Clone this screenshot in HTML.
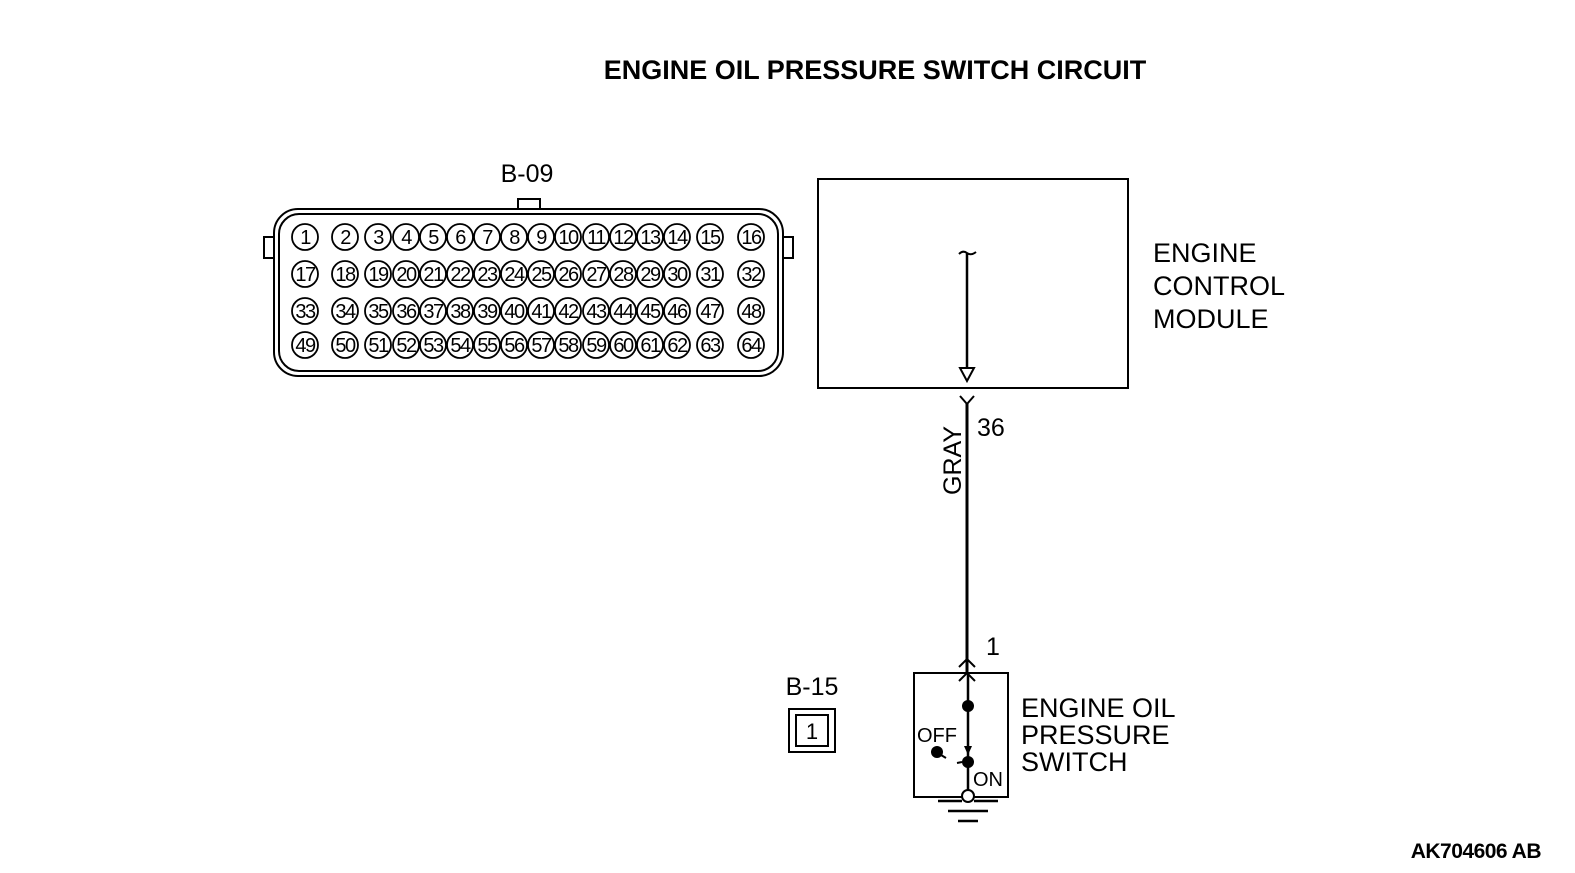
<!DOCTYPE html>
<html><head><meta charset="utf-8"><style>
html,body{margin:0;padding:0;background:#fff;}
svg{display:block;}
text{font-family:"Liberation Sans",Arial,sans-serif;fill:#000;}
.p circle{fill:#fff;stroke:#000;stroke-width:1.8;}
.p text{font-size:20px;text-anchor:middle;letter-spacing:-1.5px;}
</style></head><body>
<svg width="1575" height="873" viewBox="0 0 1575 873" xmlns="http://www.w3.org/2000/svg">
<text x="875" y="79" font-size="27" font-weight="bold" text-anchor="middle">ENGINE OIL PRESSURE SWITCH CIRCUIT</text>
<text x="527" y="182" font-size="25" text-anchor="middle">B-09</text>
<g fill="none" stroke="#000" stroke-width="2">
<rect x="518" y="199" width="22" height="11" fill="#fff"/>
<rect x="264" y="237" width="11" height="21" fill="#fff"/>
<rect x="782" y="237" width="11" height="21" fill="#fff"/>
<rect x="274" y="209" width="509" height="167" rx="24" fill="#fff"/>
<rect x="279" y="214" width="499" height="157" rx="20"/>
</g>
<g class="p">
<g transform="translate(0,237)">
<circle cx="305" r="13"/><text x="305" y="7">1</text>
<circle cx="345" r="13"/><text x="345" y="7">2</text>
<circle cx="378" r="13"/><text x="378" y="7">3</text>
<circle cx="406" r="13"/><text x="406" y="7">4</text>
<circle cx="433" r="13"/><text x="433" y="7">5</text>
<circle cx="460" r="13"/><text x="460" y="7">6</text>
<circle cx="487" r="13"/><text x="487" y="7">7</text>
<circle cx="514" r="13"/><text x="514" y="7">8</text>
<circle cx="541" r="13"/><text x="541" y="7">9</text>
<circle cx="568" r="13"/><text x="568" y="7">10</text>
<circle cx="596" r="13"/><text x="596" y="7">11</text>
<circle cx="623" r="13"/><text x="623" y="7">12</text>
<circle cx="650" r="13"/><text x="650" y="7">13</text>
<circle cx="677" r="13"/><text x="677" y="7">14</text>
<circle cx="710" r="13"/><text x="710" y="7">15</text>
<circle cx="751" r="13"/><text x="751" y="7">16</text>
</g>
<g transform="translate(0,274)">
<circle cx="305" r="13"/><text x="305" y="7">17</text>
<circle cx="345" r="13"/><text x="345" y="7">18</text>
<circle cx="378" r="13"/><text x="378" y="7">19</text>
<circle cx="406" r="13"/><text x="406" y="7">20</text>
<circle cx="433" r="13"/><text x="433" y="7">21</text>
<circle cx="460" r="13"/><text x="460" y="7">22</text>
<circle cx="487" r="13"/><text x="487" y="7">23</text>
<circle cx="514" r="13"/><text x="514" y="7">24</text>
<circle cx="541" r="13"/><text x="541" y="7">25</text>
<circle cx="568" r="13"/><text x="568" y="7">26</text>
<circle cx="596" r="13"/><text x="596" y="7">27</text>
<circle cx="623" r="13"/><text x="623" y="7">28</text>
<circle cx="650" r="13"/><text x="650" y="7">29</text>
<circle cx="677" r="13"/><text x="677" y="7">30</text>
<circle cx="710" r="13"/><text x="710" y="7">31</text>
<circle cx="751" r="13"/><text x="751" y="7">32</text>
</g>
<g transform="translate(0,311)">
<circle cx="305" r="13"/><text x="305" y="7">33</text>
<circle cx="345" r="13"/><text x="345" y="7">34</text>
<circle cx="378" r="13"/><text x="378" y="7">35</text>
<circle cx="406" r="13"/><text x="406" y="7">36</text>
<circle cx="433" r="13"/><text x="433" y="7">37</text>
<circle cx="460" r="13"/><text x="460" y="7">38</text>
<circle cx="487" r="13"/><text x="487" y="7">39</text>
<circle cx="514" r="13"/><text x="514" y="7">40</text>
<circle cx="541" r="13"/><text x="541" y="7">41</text>
<circle cx="568" r="13"/><text x="568" y="7">42</text>
<circle cx="596" r="13"/><text x="596" y="7">43</text>
<circle cx="623" r="13"/><text x="623" y="7">44</text>
<circle cx="650" r="13"/><text x="650" y="7">45</text>
<circle cx="677" r="13"/><text x="677" y="7">46</text>
<circle cx="710" r="13"/><text x="710" y="7">47</text>
<circle cx="751" r="13"/><text x="751" y="7">48</text>
</g>
<g transform="translate(0,345)">
<circle cx="305" r="13"/><text x="305" y="7">49</text>
<circle cx="345" r="13"/><text x="345" y="7">50</text>
<circle cx="378" r="13"/><text x="378" y="7">51</text>
<circle cx="406" r="13"/><text x="406" y="7">52</text>
<circle cx="433" r="13"/><text x="433" y="7">53</text>
<circle cx="460" r="13"/><text x="460" y="7">54</text>
<circle cx="487" r="13"/><text x="487" y="7">55</text>
<circle cx="514" r="13"/><text x="514" y="7">56</text>
<circle cx="541" r="13"/><text x="541" y="7">57</text>
<circle cx="568" r="13"/><text x="568" y="7">58</text>
<circle cx="596" r="13"/><text x="596" y="7">59</text>
<circle cx="623" r="13"/><text x="623" y="7">60</text>
<circle cx="650" r="13"/><text x="650" y="7">61</text>
<circle cx="677" r="13"/><text x="677" y="7">62</text>
<circle cx="710" r="13"/><text x="710" y="7">63</text>
<circle cx="751" r="13"/><text x="751" y="7">64</text>
</g>
</g>
<rect x="818" y="179" width="310" height="209" fill="none" stroke="#000" stroke-width="2"/>
<g fill="none" stroke="#000" stroke-width="3">
<path d="M959 254 q4 -4 8 -1 q4 3 9 -1" stroke-width="2"/>
<line x1="967" y1="253" x2="967" y2="368" stroke-width="2.5"/>
<path d="M960 368 L974 368 L967 381 Z" stroke-width="2"/>
<path d="M960 396 L967 404 L974 396" stroke-width="2"/>
<line x1="967" y1="403" x2="967" y2="673"/>
<path d="M959 667 L967 659 L975 667" stroke-width="2"/>
<path d="M959 681 L967 673 L975 681" stroke-width="2"/>
<line x1="968" y1="673" x2="968" y2="790" stroke-width="2.5"/>
</g>
<text x="977" y="436" font-size="25">36</text>
<text transform="translate(961,495) rotate(-90)" font-size="25">GRAY</text>
<text x="986" y="655" font-size="25">1</text>
<text x="1153" y="262" font-size="27">ENGINE</text>
<text x="1153" y="295" font-size="27">CONTROL</text>
<text x="1153" y="328" font-size="27">MODULE</text>
<rect x="914" y="673" width="94" height="124" fill="none" stroke="#000" stroke-width="2"/>
<circle cx="968" cy="706" r="6"/>
<circle cx="968" cy="762" r="6"/>
<path d="M964 746 L972 746 L968 755 Z"/>
<circle cx="937" cy="752" r="6"/>
<path d="M941 755 L946 758 M957 763 L962 762" stroke="#000" stroke-width="2"/>
<circle cx="968" cy="796" r="6" fill="#fff" stroke="#000" stroke-width="2"/>
<g stroke="#000" stroke-width="2.5">
<line x1="938" y1="801" x2="962" y2="801"/><line x1="974" y1="801" x2="998" y2="801"/>
<line x1="948" y1="811" x2="988" y2="811"/>
<line x1="958" y1="821" x2="978" y2="821"/>
</g>
<text x="917" y="742" font-size="20">OFF</text>
<text x="973" y="786" font-size="20">ON</text>
<text x="1021" y="717" font-size="27">ENGINE OIL</text>
<text x="1021" y="744" font-size="27">PRESSURE</text>
<text x="1021" y="771" font-size="27">SWITCH</text>
<text x="812" y="695" font-size="25" text-anchor="middle">B-15</text>
<rect x="789" y="709" width="46" height="43" fill="none" stroke="#000" stroke-width="2"/>
<rect x="796" y="715" width="32" height="31" fill="none" stroke="#000" stroke-width="2"/>
<text x="812" y="739" font-size="22" text-anchor="middle">1</text>
<text x="1541" y="858" font-size="21" font-weight="bold" text-anchor="end" letter-spacing="-0.5">AK704606 AB</text>
</svg>
</body></html>
